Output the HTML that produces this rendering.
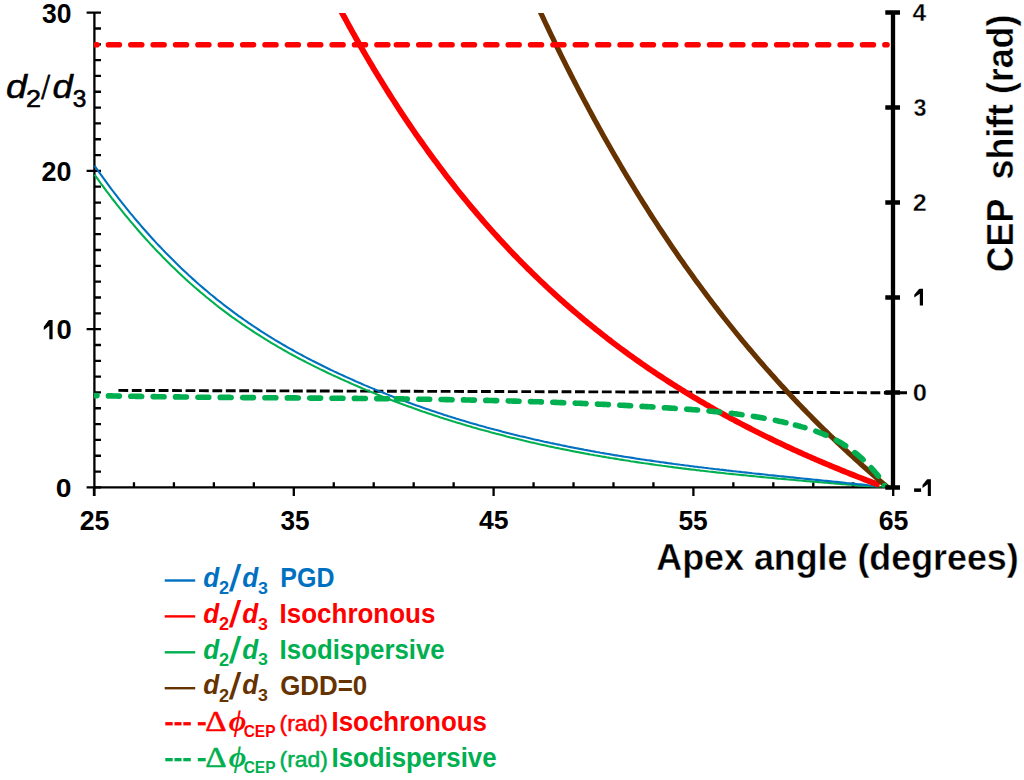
<!DOCTYPE html>
<html><head><meta charset="utf-8"><style>
html,body{margin:0;padding:0;background:#fff;width:1024px;height:780px;overflow:hidden}
svg{display:block}
</style></head><body>
<svg width="1024" height="780" viewBox="0 0 1024 780">
<defs><clipPath id="pc"><rect x="94" y="12.9" width="799" height="474.7"/></clipPath></defs>
<rect width="1024" height="780" fill="#fff"/>
<path d="M94.4,11.5 L94.4,496 M86.6,487.40 L101,487.40 M94.4,471.57 L101,471.57 M94.4,455.75 L101,455.75 M94.4,439.92 L101,439.92 M94.4,424.10 L101,424.10 M94.4,408.27 L101,408.27 M94.4,392.45 L101,392.45 M94.4,376.62 L101,376.62 M94.4,360.80 L101,360.80 M94.4,344.98 L101,344.98 M86.6,329.15 L101,329.15 M94.4,313.32 L101,313.32 M94.4,297.50 L101,297.50 M94.4,281.67 L101,281.67 M94.4,265.85 L101,265.85 M94.4,250.02 L101,250.02 M94.4,234.20 L101,234.20 M94.4,218.38 L101,218.38 M94.4,202.55 L101,202.55 M94.4,186.72 L101,186.72 M86.6,170.90 L101,170.90 M94.4,155.07 L101,155.07 M94.4,139.25 L101,139.25 M94.4,123.43 L101,123.43 M94.4,107.60 L101,107.60 M94.4,91.77 L101,91.77 M94.4,75.95 L101,75.95 M94.4,60.12 L101,60.12 M94.4,44.30 L101,44.30 M94.4,28.48 L101,28.48 M86.6,12.65 L101,12.65" stroke="#000" stroke-width="2.3" fill="none"/>
<path d="M94,487.4 L893,487.4 M94.00,487.4 L94.00,496 M133.96,487.4 L133.96,482.3 M173.92,487.4 L173.92,482.3 M213.88,487.4 L213.88,482.3 M253.84,487.4 L253.84,482.3 M293.80,487.4 L293.80,496 M333.76,487.4 L333.76,482.3 M373.72,487.4 L373.72,482.3 M413.68,487.4 L413.68,482.3 M453.64,487.4 L453.64,482.3 M493.60,487.4 L493.60,496 M533.56,487.4 L533.56,482.3 M573.52,487.4 L573.52,482.3 M613.48,487.4 L613.48,482.3 M653.44,487.4 L653.44,482.3 M693.40,487.4 L693.40,496 M733.36,487.4 L733.36,482.3 M773.32,487.4 L773.32,482.3 M813.28,487.4 L813.28,482.3 M853.24,487.4 L853.24,482.3 M893.20,487.4 L893.20,496" stroke="#000" stroke-width="2.3" fill="none"/>
<g clip-path="url(#pc)" fill="none">
<path d="M118.4,390.4 L907,392.8" stroke="#000" stroke-width="2.9" stroke-dasharray="9.8 3.63"/>
<path d="M94.5,174.6 L96.5,177.4 L98.5,180.2 L100.5,183.0 L102.5,185.7 L104.5,188.4 L106.5,191.1 L108.5,193.7 L110.5,196.3 L112.5,199.0 L114.5,201.5 L116.5,204.1 L118.5,206.6 L120.5,209.1 L122.5,211.6 L124.5,214.1 L126.5,216.5 L128.5,218.9 L130.5,221.3 L132.5,223.7 L134.5,226.0 L136.5,228.4 L138.5,230.7 L140.5,233.0 L142.5,235.2 L144.5,237.5 L146.5,239.7 L148.5,241.9 L150.5,244.1 L152.5,246.2 L154.5,248.4 L156.5,250.5 L158.5,252.6 L160.5,254.6 L162.5,256.7 L164.5,258.7 L166.5,260.7 L168.5,262.7 L170.5,264.7 L172.5,266.7 L174.5,268.6 L176.5,270.5 L178.5,272.4 L180.5,274.3 L182.5,276.2 L184.5,278.0 L186.5,279.9 L188.5,281.7 L190.5,283.5 L192.5,285.2 L194.5,287.0 L196.5,288.7 L198.5,290.4 L200.5,292.2 L202.5,293.8 L204.5,295.5 L206.5,297.2 L208.5,298.8 L210.5,300.4 L212.5,302.0 L214.5,303.6 L216.5,305.2 L218.5,306.8 L220.5,308.3 L222.5,309.8 L224.5,311.3 L226.5,312.8 L228.5,314.3 L230.5,315.8 L232.5,317.3 L234.5,318.7 L236.5,320.1 L238.5,321.5 L240.5,322.9 L242.5,324.3 L244.5,325.7 L246.5,327.0 L248.5,328.4 L250.5,329.7 L252.5,331.0 L254.5,332.3 L256.5,333.6 L258.5,334.9 L260.5,336.2 L262.5,337.4 L264.5,338.7 L266.5,339.9 L268.5,341.1 L270.5,342.4 L272.5,343.6 L274.5,344.7 L276.5,345.9 L278.5,347.1 L280.5,348.2 L282.5,349.4 L284.5,350.5 L286.5,351.6 L288.5,352.8 L290.5,353.9 L292.5,355.0 L294.5,356.0 L296.5,357.1 L298.5,358.2 L300.5,359.2 L302.5,360.3 L304.5,361.3 L306.5,362.4 L308.5,363.4 L310.5,364.4 L312.5,365.4 L314.5,366.4 L316.5,367.4 L318.5,368.4 L320.5,369.4 L322.5,370.3 L324.5,371.3 L326.5,372.2 L328.5,373.2 L330.5,374.1 L332.5,375.1 L334.5,376.0 L336.5,376.9 L338.5,377.8 L340.5,378.7 L342.5,379.6 L344.5,380.5 L346.5,381.4 L348.5,382.3 L350.5,383.2 L352.5,384.1 L354.5,385.0 L356.5,385.8 L358.5,386.7 L360.5,387.5 L362.5,388.4 L364.5,389.2 L366.5,390.1 L368.5,390.9 L370.5,391.7 L372.5,392.5 L374.5,393.4 L376.5,394.2 L378.5,395.0 L380.5,395.8 L382.5,396.6 L384.5,397.3 L386.5,398.1 L388.5,398.9 L390.5,399.7 L392.5,400.5 L394.5,401.2 L396.5,402.0 L398.5,402.7 L400.5,403.5 L402.5,404.2 L404.5,404.9 L406.5,405.7 L408.5,406.4 L410.5,407.1 L412.5,407.8 L414.5,408.6 L416.5,409.3 L418.5,410.0 L420.5,410.7 L422.5,411.4 L424.5,412.0 L426.5,412.7 L428.5,413.4 L430.5,414.1 L432.5,414.7 L434.5,415.4 L436.5,416.1 L438.5,416.7 L440.5,417.4 L442.5,418.0 L444.5,418.7 L446.5,419.3 L448.5,419.9 L450.5,420.6 L452.5,421.2 L454.5,421.8 L456.5,422.4 L458.5,423.0 L460.5,423.6 L462.5,424.2 L464.5,424.8 L466.5,425.4 L468.5,426.0 L470.5,426.6 L472.5,427.2 L474.5,427.7 L476.5,428.3 L478.5,428.9 L480.5,429.4 L482.5,430.0 L484.5,430.5 L486.5,431.1 L488.5,431.6 L490.5,432.2 L492.5,432.7 L494.5,433.2 L496.5,433.8 L498.5,434.3 L500.5,434.8 L502.5,435.3 L504.5,435.8 L506.5,436.4 L508.5,436.9 L510.5,437.4 L512.5,437.9 L514.5,438.3 L516.5,438.8 L518.5,439.3 L520.5,439.8 L522.5,440.3 L524.5,440.8 L526.5,441.2 L528.5,441.7 L530.5,442.2 L532.5,442.6 L534.5,443.1 L536.5,443.5 L538.5,444.0 L540.5,444.4 L542.5,444.9 L544.5,445.3 L546.5,445.7 L548.5,446.2 L550.5,446.6 L552.5,447.0 L554.5,447.4 L556.5,447.9 L558.5,448.3 L560.5,448.7 L562.5,449.1 L564.5,449.5 L566.5,449.9 L568.5,450.3 L570.5,450.7 L572.5,451.1 L574.5,451.5 L576.5,451.9 L578.5,452.2 L580.5,452.6 L582.5,453.0 L584.5,453.4 L586.5,453.7 L588.5,454.1 L590.5,454.5 L592.5,454.8 L594.5,455.2 L596.5,455.5 L598.5,455.9 L600.5,456.2 L602.5,456.6 L604.5,456.9 L606.5,457.3 L608.5,457.6 L610.5,458.0 L612.5,458.3 L614.5,458.6 L616.5,458.9 L618.5,459.3 L620.5,459.6 L622.5,459.9 L624.5,460.2 L626.5,460.5 L628.5,460.8 L630.5,461.2 L632.5,461.5 L634.5,461.8 L636.5,462.1 L638.5,462.4 L640.5,462.7 L642.5,463.0 L644.5,463.3 L646.5,463.5 L648.5,463.8 L650.5,464.1 L652.5,464.4 L654.5,464.7 L656.5,465.0 L658.5,465.2 L660.5,465.5 L662.5,465.8 L664.5,466.0 L666.5,466.3 L668.5,466.6 L670.5,466.8 L672.5,467.1 L674.5,467.4 L676.5,467.6 L678.5,467.9 L680.5,468.1 L682.5,468.4 L684.5,468.6 L686.5,468.9 L688.5,469.1 L690.5,469.4 L692.5,469.6 L694.5,469.8 L696.5,470.1 L698.5,470.3 L700.5,470.6 L702.5,470.8 L704.5,471.0 L706.5,471.2 L708.5,471.5 L710.5,471.7 L712.5,471.9 L714.5,472.1 L716.5,472.4 L718.5,472.6 L720.5,472.8 L722.5,473.0 L724.5,473.2 L726.5,473.5 L728.5,473.7 L730.5,473.9 L732.5,474.1 L734.5,474.3 L736.5,474.5 L738.5,474.7 L740.5,474.9 L742.5,475.1 L744.5,475.3 L746.5,475.5 L748.5,475.7 L750.5,475.9 L752.5,476.1 L754.5,476.3 L756.5,476.5 L758.5,476.7 L760.5,476.9 L762.5,477.1 L764.5,477.3 L766.5,477.5 L768.5,477.6 L770.5,477.8 L772.5,478.0 L774.5,478.2 L776.5,478.4 L778.5,478.6 L780.5,478.7 L782.5,478.9 L784.5,479.1 L786.5,479.3 L788.5,479.5 L790.5,479.6 L792.5,479.8 L794.5,480.0 L796.5,480.2 L798.5,480.4 L800.5,480.5 L802.5,480.7 L804.5,480.9 L806.5,481.1 L808.5,481.2 L810.5,481.4 L812.5,481.6 L814.5,481.7 L816.5,481.9 L818.5,482.1 L820.5,482.3 L822.5,482.4 L824.5,482.6 L826.5,482.8 L828.5,482.9 L830.5,483.1 L832.5,483.3 L834.5,483.4 L836.5,483.6 L838.5,483.8 L840.5,483.9 L842.5,484.1 L844.5,484.3 L846.5,484.4 L848.5,484.6 L850.5,484.8 L852.5,484.9 L854.5,485.1 L856.5,485.3 L858.5,485.4 L860.5,485.6 L862.5,485.8 L864.5,485.9 L866.5,486.1 L868.5,486.3 L870.5,486.4 L872.5,486.6 L874.5,486.8 L876.5,486.9 L878.5,487.1 L880.5,487.3 L882.5,487.4 L884.0,487.6" stroke="#00B050" stroke-width="2.1"/>
<path d="M94.5,165.7 L96.5,168.5 L98.5,171.4 L100.5,174.2 L102.5,176.9 L104.5,179.7 L106.5,182.4 L108.5,185.1 L110.5,187.8 L112.5,190.5 L114.5,193.1 L116.5,195.7 L118.5,198.3 L120.5,200.8 L122.5,203.4 L124.5,205.9 L126.5,208.4 L128.5,210.9 L130.5,213.3 L132.5,215.7 L134.5,218.1 L136.5,220.5 L138.5,222.8 L140.5,225.2 L142.5,227.5 L144.5,229.8 L146.5,232.0 L148.5,234.3 L150.5,236.5 L152.5,238.7 L154.5,240.9 L156.5,243.1 L158.5,245.2 L160.5,247.3 L162.5,249.4 L164.5,251.5 L166.5,253.6 L168.5,255.6 L170.5,257.6 L172.5,259.6 L174.5,261.6 L176.5,263.6 L178.5,265.5 L180.5,267.4 L182.5,269.4 L184.5,271.2 L186.5,273.1 L188.5,275.0 L190.5,276.8 L192.5,278.6 L194.5,280.4 L196.5,282.2 L198.5,284.0 L200.5,285.7 L202.5,287.4 L204.5,289.1 L206.5,290.8 L208.5,292.5 L210.5,294.2 L212.5,295.8 L214.5,297.4 L216.5,299.1 L218.5,300.7 L220.5,302.2 L222.5,303.8 L224.5,305.4 L226.5,306.9 L228.5,308.4 L230.5,309.9 L232.5,311.4 L234.5,312.9 L236.5,314.3 L238.5,315.8 L240.5,317.2 L242.5,318.6 L244.5,320.0 L246.5,321.4 L248.5,322.8 L250.5,324.2 L252.5,325.5 L254.5,326.9 L256.5,328.2 L258.5,329.5 L260.5,330.8 L262.5,332.1 L264.5,333.4 L266.5,334.6 L268.5,335.9 L270.5,337.1 L272.5,338.4 L274.5,339.6 L276.5,340.8 L278.5,342.0 L280.5,343.2 L282.5,344.3 L284.5,345.5 L286.5,346.7 L288.5,347.8 L290.5,348.9 L292.5,350.0 L294.5,351.2 L296.5,352.3 L298.5,353.4 L300.5,354.4 L302.5,355.5 L304.5,356.6 L306.5,357.6 L308.5,358.7 L310.5,359.7 L312.5,360.8 L314.5,361.8 L316.5,362.8 L318.5,363.8 L320.5,364.8 L322.5,365.8 L324.5,366.8 L326.5,367.7 L328.5,368.7 L330.5,369.7 L332.5,370.6 L334.5,371.6 L336.5,372.5 L338.5,373.5 L340.5,374.4 L342.5,375.3 L344.5,376.2 L346.5,377.1 L348.5,378.0 L350.5,378.9 L352.5,379.8 L354.5,380.7 L356.5,381.6 L358.5,382.5 L360.5,383.3 L362.5,384.2 L364.5,385.1 L366.5,385.9 L368.5,386.8 L370.5,387.6 L372.5,388.4 L374.5,389.3 L376.5,390.1 L378.5,390.9 L380.5,391.7 L382.5,392.5 L384.5,393.3 L386.5,394.1 L388.5,394.9 L390.5,395.7 L392.5,396.5 L394.5,397.2 L396.5,398.0 L398.5,398.8 L400.5,399.5 L402.5,400.3 L404.5,401.0 L406.5,401.8 L408.5,402.5 L410.5,403.2 L412.5,404.0 L414.5,404.7 L416.5,405.4 L418.5,406.1 L420.5,406.8 L422.5,407.5 L424.5,408.2 L426.5,408.9 L428.5,409.6 L430.5,410.3 L432.5,410.9 L434.5,411.6 L436.5,412.3 L438.5,412.9 L440.5,413.6 L442.5,414.2 L444.5,414.9 L446.5,415.5 L448.5,416.2 L450.5,416.8 L452.5,417.4 L454.5,418.0 L456.5,418.7 L458.5,419.3 L460.5,419.9 L462.5,420.5 L464.5,421.1 L466.5,421.7 L468.5,422.3 L470.5,422.9 L472.5,423.4 L474.5,424.0 L476.5,424.6 L478.5,425.2 L480.5,425.7 L482.5,426.3 L484.5,426.8 L486.5,427.4 L488.5,427.9 L490.5,428.5 L492.5,429.0 L494.5,429.6 L496.5,430.1 L498.5,430.6 L500.5,431.1 L502.5,431.7 L504.5,432.2 L506.5,432.7 L508.5,433.2 L510.5,433.7 L512.5,434.2 L514.5,434.7 L516.5,435.2 L518.5,435.7 L520.5,436.2 L522.5,436.6 L524.5,437.1 L526.5,437.6 L528.5,438.0 L530.5,438.5 L532.5,439.0 L534.5,439.4 L536.5,439.9 L538.5,440.3 L540.5,440.8 L542.5,441.2 L544.5,441.7 L546.5,442.1 L548.5,442.5 L550.5,443.0 L552.5,443.4 L554.5,443.8 L556.5,444.2 L558.5,444.6 L560.5,445.1 L562.5,445.5 L564.5,445.9 L566.5,446.3 L568.5,446.7 L570.5,447.1 L572.5,447.5 L574.5,447.9 L576.5,448.2 L578.5,448.6 L580.5,449.0 L582.5,449.4 L584.5,449.8 L586.5,450.1 L588.5,450.5 L590.5,450.9 L592.5,451.2 L594.5,451.6 L596.5,452.0 L598.5,452.3 L600.5,452.7 L602.5,453.0 L604.5,453.4 L606.5,453.7 L608.5,454.0 L610.5,454.4 L612.5,454.7 L614.5,455.1 L616.5,455.4 L618.5,455.7 L620.5,456.0 L622.5,456.4 L624.5,456.7 L626.5,457.0 L628.5,457.3 L630.5,457.6 L632.5,457.9 L634.5,458.2 L636.5,458.6 L638.5,458.9 L640.5,459.2 L642.5,459.5 L644.5,459.8 L646.5,460.1 L648.5,460.3 L650.5,460.6 L652.5,460.9 L654.5,461.2 L656.5,461.5 L658.5,461.8 L660.5,462.1 L662.5,462.3 L664.5,462.6 L666.5,462.9 L668.5,463.2 L670.5,463.4 L672.5,463.7 L674.5,464.0 L676.5,464.2 L678.5,464.5 L680.5,464.8 L682.5,465.0 L684.5,465.3 L686.5,465.5 L688.5,465.8 L690.5,466.1 L692.5,466.3 L694.5,466.6 L696.5,466.8 L698.5,467.1 L700.5,467.3 L702.5,467.5 L704.5,467.8 L706.5,468.0 L708.5,468.3 L710.5,468.5 L712.5,468.7 L714.5,469.0 L716.5,469.2 L718.5,469.4 L720.5,469.7 L722.5,469.9 L724.5,470.1 L726.5,470.4 L728.5,470.6 L730.5,470.8 L732.5,471.1 L734.5,471.3 L736.5,471.5 L738.5,471.7 L740.5,471.9 L742.5,472.2 L744.5,472.4 L746.5,472.6 L748.5,472.8 L750.5,473.0 L752.5,473.3 L754.5,473.5 L756.5,473.7 L758.5,473.9 L760.5,474.1 L762.5,474.3 L764.5,474.5 L766.5,474.7 L768.5,475.0 L770.5,475.2 L772.5,475.4 L774.5,475.6 L776.5,475.8 L778.5,476.0 L780.5,476.2 L782.5,476.4 L784.5,476.6 L786.5,476.8 L788.5,477.0 L790.5,477.2 L792.5,477.4 L794.5,477.6 L796.5,477.9 L798.5,478.1 L800.5,478.3 L802.5,478.5 L804.5,478.7 L806.5,478.9 L808.5,479.1 L810.5,479.3 L812.5,479.5 L814.5,479.7 L816.5,479.9 L818.5,480.1 L820.5,480.3 L822.5,480.5 L824.5,480.7 L826.5,480.9 L828.5,481.1 L830.5,481.3 L832.5,481.5 L834.5,481.7 L836.5,481.9 L838.5,482.1 L840.5,482.3 L842.5,482.5 L844.5,482.7 L846.5,483.0 L848.5,483.2 L850.5,483.4 L852.5,483.6 L854.5,483.8 L856.5,484.0 L858.5,484.2 L860.5,484.4 L862.5,484.6 L864.5,484.8 L866.5,485.0 L868.5,485.3 L870.5,485.5 L872.5,485.7 L874.5,485.9 L876.5,486.1 L877.6,486.2" stroke="#0070C0" stroke-width="2.1"/>
<path d="M336.0,1.5 L338.0,5.3 L340.0,9.0 L342.0,12.8 L344.0,16.5 L346.0,20.2 L348.0,23.8 L350.0,27.5 L352.0,31.1 L354.0,34.7 L356.0,38.2 L358.0,41.7 L360.0,45.3 L362.0,48.7 L364.0,52.2 L366.0,55.6 L368.0,59.1 L370.0,62.4 L372.0,65.8 L374.0,69.2 L376.0,72.5 L378.0,75.8 L380.0,79.0 L382.0,82.3 L384.0,85.5 L386.0,88.7 L388.0,91.9 L390.0,95.1 L392.0,98.2 L394.0,101.3 L396.0,104.4 L398.0,107.5 L400.0,110.6 L402.0,113.6 L404.0,116.6 L406.0,119.6 L408.0,122.6 L410.0,125.5 L412.0,128.5 L414.0,131.4 L416.0,134.3 L418.0,137.1 L420.0,140.0 L422.0,142.8 L424.0,145.6 L426.0,148.4 L428.0,151.2 L430.0,154.0 L432.0,156.7 L434.0,159.4 L436.0,162.1 L438.0,164.8 L440.0,167.5 L442.0,170.1 L444.0,172.8 L446.0,175.4 L448.0,178.0 L450.0,180.5 L452.0,183.1 L454.0,185.6 L456.0,188.2 L458.0,190.7 L460.0,193.2 L462.0,195.6 L464.0,198.1 L466.0,200.5 L468.0,203.0 L470.0,205.4 L472.0,207.8 L474.0,210.2 L476.0,212.5 L478.0,214.9 L480.0,217.2 L482.0,219.5 L484.0,221.8 L486.0,224.1 L488.0,226.4 L490.0,228.6 L492.0,230.9 L494.0,233.1 L496.0,235.3 L498.0,237.5 L500.0,239.7 L502.0,241.8 L504.0,244.0 L506.0,246.1 L508.0,248.3 L510.0,250.4 L512.0,252.5 L514.0,254.6 L516.0,256.6 L518.0,258.7 L520.0,260.7 L522.0,262.8 L524.0,264.8 L526.0,266.8 L528.0,268.8 L530.0,270.7 L532.0,272.7 L534.0,274.7 L536.0,276.6 L538.0,278.5 L540.0,280.5 L542.0,282.4 L544.0,284.2 L546.0,286.1 L548.0,288.0 L550.0,289.9 L552.0,291.7 L554.0,293.5 L556.0,295.3 L558.0,297.2 L560.0,299.0 L562.0,300.7 L564.0,302.5 L566.0,304.3 L568.0,306.0 L570.0,307.8 L572.0,309.5 L574.0,311.2 L576.0,312.9 L578.0,314.6 L580.0,316.3 L582.0,318.0 L584.0,319.7 L586.0,321.3 L588.0,323.0 L590.0,324.6 L592.0,326.2 L594.0,327.8 L596.0,329.5 L598.0,331.0 L600.0,332.6 L602.0,334.2 L604.0,335.8 L606.0,337.3 L608.0,338.9 L610.0,340.4 L612.0,342.0 L614.0,343.5 L616.0,345.0 L618.0,346.5 L620.0,348.0 L622.0,349.5 L624.0,350.9 L626.0,352.4 L628.0,353.9 L630.0,355.3 L632.0,356.7 L634.0,358.2 L636.0,359.6 L638.0,361.0 L640.0,362.4 L642.0,363.8 L644.0,365.2 L646.0,366.6 L648.0,368.0 L650.0,369.3 L652.0,370.7 L654.0,372.0 L656.0,373.4 L658.0,374.7 L660.0,376.0 L662.0,377.3 L664.0,378.6 L666.0,379.9 L668.0,381.2 L670.0,382.5 L672.0,383.8 L674.0,385.1 L676.0,386.3 L678.0,387.6 L680.0,388.8 L682.0,390.1 L684.0,391.3 L686.0,392.6 L688.0,393.8 L690.0,395.0 L692.0,396.2 L694.0,397.4 L696.0,398.6 L698.0,399.8 L700.0,401.0 L702.0,402.1 L704.0,403.3 L706.0,404.5 L708.0,405.6 L710.0,406.8 L712.0,407.9 L714.0,409.0 L716.0,410.2 L718.0,411.3 L720.0,412.4 L722.0,413.5 L724.0,414.6 L726.0,415.7 L728.0,416.8 L730.0,417.9 L732.0,419.0 L734.0,420.0 L736.0,421.1 L738.0,422.2 L740.0,423.2 L742.0,424.3 L744.0,425.3 L746.0,426.4 L748.0,427.4 L750.0,428.4 L752.0,429.5 L754.0,430.5 L756.0,431.5 L758.0,432.5 L760.0,433.5 L762.0,434.5 L764.0,435.5 L766.0,436.5 L768.0,437.5 L770.0,438.4 L772.0,439.4 L774.0,440.4 L776.0,441.3 L778.0,442.3 L780.0,443.2 L782.0,444.2 L784.0,445.1 L786.0,446.1 L788.0,447.0 L790.0,447.9 L792.0,448.8 L794.0,449.8 L796.0,450.7 L798.0,451.6 L800.0,452.5 L802.0,453.4 L804.0,454.3 L806.0,455.2 L808.0,456.1 L810.0,456.9 L812.0,457.8 L814.0,458.7 L816.0,459.6 L818.0,460.4 L820.0,461.3 L822.0,462.1 L824.0,463.0 L826.0,463.8 L828.0,464.7 L830.0,465.5 L832.0,466.3 L834.0,467.2 L836.0,468.0 L838.0,468.8 L840.0,469.6 L842.0,470.5 L844.0,471.3 L846.0,472.1 L848.0,472.9 L850.0,473.7 L852.0,474.5 L854.0,475.3 L856.0,476.1 L858.0,476.9 L860.0,477.6 L862.0,478.4 L864.0,479.2 L866.0,480.0 L868.0,480.7 L870.0,481.5 L872.0,482.3 L874.0,483.0 L876.0,483.8 L878.0,484.5 L879.6,485.1" stroke="#FF0000" stroke-width="5.8"/>
<path d="M535.0,0.4 L537.0,4.8 L539.0,9.1 L541.0,13.4 L543.0,17.7 L545.0,22.0 L547.0,26.2 L549.0,30.4 L551.0,34.6 L553.0,38.7 L555.0,42.8 L557.0,46.9 L559.0,51.0 L561.0,55.1 L563.0,59.1 L565.0,63.1 L567.0,67.1 L569.0,71.0 L571.0,75.0 L573.0,78.9 L575.0,82.8 L577.0,86.6 L579.0,90.5 L581.0,94.3 L583.0,98.1 L585.0,101.9 L587.0,105.6 L589.0,109.4 L591.0,113.1 L593.0,116.8 L595.0,120.4 L597.0,124.1 L599.0,127.7 L601.0,131.3 L603.0,134.9 L605.0,138.5 L607.0,142.0 L609.0,145.5 L611.0,149.0 L613.0,152.5 L615.0,156.0 L617.0,159.4 L619.0,162.8 L621.0,166.2 L623.0,169.6 L625.0,173.0 L627.0,176.3 L629.0,179.6 L631.0,182.9 L633.0,186.2 L635.0,189.5 L637.0,192.7 L639.0,196.0 L641.0,199.2 L643.0,202.4 L645.0,205.5 L647.0,208.7 L649.0,211.8 L651.0,215.0 L653.0,218.1 L655.0,221.1 L657.0,224.2 L659.0,227.3 L661.0,230.3 L663.0,233.3 L665.0,236.3 L667.0,239.3 L669.0,242.3 L671.0,245.2 L673.0,248.2 L675.0,251.1 L677.0,254.0 L679.0,256.9 L681.0,259.7 L683.0,262.6 L685.0,265.4 L687.0,268.2 L689.0,271.0 L691.0,273.8 L693.0,276.6 L695.0,279.4 L697.0,282.1 L699.0,284.8 L701.0,287.6 L703.0,290.3 L705.0,292.9 L707.0,295.6 L709.0,298.3 L711.0,300.9 L713.0,303.5 L715.0,306.1 L717.0,308.7 L719.0,311.3 L721.0,313.9 L723.0,316.5 L725.0,319.0 L727.0,321.5 L729.0,324.0 L731.0,326.5 L733.0,329.0 L735.0,331.5 L737.0,334.0 L739.0,336.4 L741.0,338.9 L743.0,341.3 L745.0,343.7 L747.0,346.1 L749.0,348.5 L751.0,350.8 L753.0,353.2 L755.0,355.5 L757.0,357.9 L759.0,360.2 L761.0,362.5 L763.0,364.8 L765.0,367.1 L767.0,369.4 L769.0,371.6 L771.0,373.9 L773.0,376.1 L775.0,378.3 L777.0,380.6 L779.0,382.8 L781.0,385.0 L783.0,387.1 L785.0,389.3 L787.0,391.5 L789.0,393.6 L791.0,395.8 L793.0,397.9 L795.0,400.0 L797.0,402.1 L799.0,404.2 L801.0,406.3 L803.0,408.4 L805.0,410.4 L807.0,412.5 L809.0,414.5 L811.0,416.5 L813.0,418.6 L815.0,420.6 L817.0,422.6 L819.0,424.6 L821.0,426.5 L823.0,428.5 L825.0,430.5 L827.0,432.4 L829.0,434.4 L831.0,436.3 L833.0,438.2 L835.0,440.1 L837.0,442.0 L839.0,443.9 L841.0,445.8 L843.0,447.7 L845.0,449.6 L847.0,451.4 L849.0,453.3 L851.0,455.1 L853.0,456.9 L855.0,458.8 L857.0,460.6 L859.0,462.4 L861.0,464.2 L863.0,466.0 L865.0,467.7 L867.0,469.5 L869.0,471.3 L871.0,473.0 L873.0,474.8 L875.0,476.5 L877.0,478.2 L879.0,480.0 L881.0,481.7 L883.0,483.4 L885.0,485.1 L887.0,486.8 L888.0,487.6" stroke="#663300" stroke-width="5.2"/>
<path d="M86.1,44.7 L396.4,44.7" stroke="#FF0000" stroke-width="5.6" stroke-linecap="round" stroke-dasharray="10.9 11.47" fill="none"/>
<path d="M396.4,44.7 L795.4,44.7" stroke="#FF0000" stroke-width="5.6" stroke-linecap="round" stroke-dasharray="10.9 11.47" fill="none"/>
<path d="M795.4,44.7 L887.0,44.7" stroke="#FF0000" stroke-width="5.6" stroke-linecap="round" stroke-dasharray="10.9 11.47" fill="none"/>
<path d="M86.1,395.7 L94.0,395.6 L95.0,395.6 L96.0,395.6 L97.0,395.6 L98.0,395.7 L99.0,395.7 L100.0,395.7 L101.0,395.7 L102.0,395.8 L103.0,395.8 L104.0,395.8 L105.0,395.8 L106.0,395.8 L107.0,395.9 L108.0,395.9 L109.0,395.9 L110.0,395.9 L111.0,395.9 L112.0,395.9 L113.0,396.0 L114.0,396.0 L115.0,396.0 L116.0,396.0 L117.0,396.0 L118.0,396.1 L119.0,396.1 L120.0,396.1 L121.0,396.1 L122.0,396.1 L123.0,396.1 L124.0,396.2 L125.0,396.2 L126.0,396.2 L127.0,396.2 L128.0,396.2 L129.0,396.2 L130.0,396.3 L131.0,396.3 L132.0,396.3 L133.0,396.3 L134.0,396.3 L135.0,396.3 L136.0,396.4 L137.0,396.4 L138.0,396.4 L139.0,396.4 L140.0,396.4 L141.0,396.4 L142.0,396.5 L143.0,396.5 L144.0,396.5 L145.0,396.5 L146.0,396.5 L147.0,396.5 L148.0,396.5 L149.0,396.6 L150.0,396.6 L151.0,396.6 L152.0,396.6 L153.0,396.6 L154.0,396.6 L155.0,396.6 L156.0,396.7 L157.0,396.7 L158.0,396.7 L159.0,396.7 L160.0,396.7 L161.0,396.7 L162.0,396.7 L163.0,396.8 L164.0,396.8 L165.0,396.8 L166.0,396.8 L167.0,396.8 L168.0,396.8 L169.0,396.8 L170.0,396.8 L171.0,396.9 L172.0,396.9 L173.0,396.9 L174.0,396.9 L175.0,396.9 L176.0,396.9 L177.0,396.9 L178.0,396.9 L179.0,396.9 L180.0,397.0 L181.0,397.0 L182.0,397.0 L183.0,397.0 L184.0,397.0 L185.0,397.0 L186.0,397.0 L187.0,397.0 L188.0,397.0 L189.0,397.1 L190.0,397.1 L191.0,397.1 L192.0,397.1 L193.0,397.1 L194.0,397.1 L195.0,397.1 L196.0,397.1 L197.0,397.1 L198.0,397.2 L199.0,397.2 L200.0,397.2 L201.0,397.2 L202.0,397.2 L203.0,397.2 L204.0,397.2 L205.0,397.2 L206.0,397.2 L207.0,397.2 L208.0,397.3 L209.0,397.3 L210.0,397.3 L211.0,397.3 L212.0,397.3 L213.0,397.3 L214.0,397.3 L215.0,397.3 L216.0,397.3 L217.0,397.3 L218.0,397.3 L219.0,397.4 L220.0,397.4 L221.0,397.4 L222.0,397.4 L223.0,397.4 L224.0,397.4 L225.0,397.4 L226.0,397.4 L227.0,397.4 L228.0,397.4 L229.0,397.4 L230.0,397.4 L231.0,397.5 L232.0,397.5 L233.0,397.5 L234.0,397.5 L235.0,397.5 L236.0,397.5 L237.0,397.5 L238.0,397.5 L239.0,397.5 L240.0,397.5 L241.0,397.5 L242.0,397.5 L243.0,397.6 L244.0,397.6 L245.0,397.6 L246.0,397.6 L247.0,397.6 L248.0,397.6 L249.0,397.6 L250.0,397.6 L251.0,397.6 L252.0,397.6 L253.0,397.6 L254.0,397.6 L255.0,397.6 L256.0,397.7 L257.0,397.7 L258.0,397.7 L259.0,397.7 L260.0,397.7 L261.0,397.7 L262.0,397.7 L263.0,397.7 L264.0,397.7 L265.0,397.7 L266.0,397.7 L267.0,397.7 L268.0,397.7 L269.0,397.8 L270.0,397.8 L271.0,397.8 L272.0,397.8 L273.0,397.8 L274.0,397.8 L275.0,397.8 L276.0,397.8 L277.0,397.8 L278.0,397.8 L279.0,397.8 L280.0,397.8 L281.0,397.8 L282.0,397.8 L283.0,397.9 L284.0,397.9 L285.0,397.9 L286.0,397.9 L287.0,397.9 L288.0,397.9 L289.0,397.9 L290.0,397.9 L291.0,397.9 L292.0,397.9 L293.0,397.9 L294.0,397.9 L295.0,397.9 L296.0,397.9 L297.0,398.0 L298.0,398.0 L299.0,398.0 L300.0,398.0 L301.0,398.0 L302.0,398.0 L303.0,398.0 L304.0,398.0 L305.0,398.0 L306.0,398.0 L307.0,398.0 L308.0,398.0 L309.0,398.0 L310.0,398.1 L311.0,398.1 L312.0,398.1 L313.0,398.1 L314.0,398.1 L315.0,398.1 L316.0,398.1 L317.0,398.1 L318.0,398.1 L319.0,398.1 L320.0,398.1 L321.0,398.1 L322.0,398.1 L323.0,398.2 L324.0,398.2 L325.0,398.2 L326.0,398.2 L327.0,398.2 L328.0,398.2 L329.0,398.2 L330.0,398.2 L331.0,398.2 L332.0,398.2 L333.0,398.2 L334.0,398.2 L335.0,398.2 L336.0,398.3 L337.0,398.3 L338.0,398.3 L339.0,398.3 L340.0,398.3 L341.0,398.3 L342.0,398.3 L343.0,398.3 L344.0,398.3 L345.0,398.3 L346.0,398.3 L347.0,398.4 L348.0,398.4 L349.0,398.4 L350.0,398.4 L351.0,398.4 L352.0,398.4 L353.0,398.4 L354.0,398.4 L355.0,398.4 L356.0,398.4 L357.0,398.4 L358.0,398.5 L359.0,398.5 L360.0,398.5 L361.0,398.5 L362.0,398.5 L363.0,398.5 L364.0,398.5 L365.0,398.5 L366.0,398.5 L367.0,398.5 L368.0,398.5 L369.0,398.6 L370.0,398.6 L371.0,398.6 L372.0,398.6 L373.0,398.6 L374.0,398.6 L375.0,398.6 L376.0,398.6 L377.0,398.6 L378.0,398.6 L379.0,398.7 L380.0,398.7 L381.0,398.7 L382.0,398.7 L383.0,398.7 L384.0,398.7 L385.0,398.7 L386.0,398.7 L387.0,398.7 L388.0,398.8 L389.0,398.8 L390.0,398.8 L391.0,398.8 L392.0,398.8 L393.0,398.8 L394.0,398.8 L395.0,398.8 L396.0,398.9 L396.4,398.9" stroke="#00B050" stroke-width="5.6" stroke-linecap="round" stroke-dasharray="10.9 11.47" fill="none"/>
<path d="M396.4,398.9 L397.0,398.9 L398.0,398.9 L399.0,398.9 L400.0,398.9 L401.0,398.9 L402.0,398.9 L403.0,398.9 L404.0,399.0 L405.0,399.0 L406.0,399.0 L407.0,399.0 L408.0,399.0 L409.0,399.0 L410.0,399.0 L411.0,399.0 L412.0,399.1 L413.0,399.1 L414.0,399.1 L415.0,399.1 L416.0,399.1 L417.0,399.1 L418.0,399.1 L419.0,399.2 L420.0,399.2 L421.0,399.2 L422.0,399.2 L423.0,399.2 L424.0,399.2 L425.0,399.2 L426.0,399.3 L427.0,399.3 L428.0,399.3 L429.0,399.3 L430.0,399.3 L431.0,399.3 L432.0,399.4 L433.0,399.4 L434.0,399.4 L435.0,399.4 L436.0,399.4 L437.0,399.4 L438.0,399.4 L439.0,399.5 L440.0,399.5 L441.0,399.5 L442.0,399.5 L443.0,399.5 L444.0,399.5 L445.0,399.6 L446.0,399.6 L447.0,399.6 L448.0,399.6 L449.0,399.6 L450.0,399.7 L451.0,399.7 L452.0,399.7 L453.0,399.7 L454.0,399.7 L455.0,399.7 L456.0,399.8 L457.0,399.8 L458.0,399.8 L459.0,399.8 L460.0,399.8 L461.0,399.9 L462.0,399.9 L463.0,399.9 L464.0,399.9 L465.0,399.9 L466.0,400.0 L467.0,400.0 L468.0,400.0 L469.0,400.0 L470.0,400.0 L471.0,400.1 L472.0,400.1 L473.0,400.1 L474.0,400.1 L475.0,400.1 L476.0,400.2 L477.0,400.2 L478.0,400.2 L479.0,400.2 L480.0,400.2 L481.0,400.3 L482.0,400.3 L483.0,400.3 L484.0,400.3 L485.0,400.4 L486.0,400.4 L487.0,400.4 L488.0,400.4 L489.0,400.5 L490.0,400.5 L491.0,400.5 L492.0,400.5 L493.0,400.5 L494.0,400.6 L495.0,400.6 L496.0,400.6 L497.0,400.6 L498.0,400.7 L499.0,400.7 L500.0,400.7 L501.0,400.7 L502.0,400.8 L503.0,400.8 L504.0,400.8 L505.0,400.8 L506.0,400.9 L507.0,400.9 L508.0,400.9 L509.0,401.0 L510.0,401.0 L511.0,401.0 L512.0,401.0 L513.0,401.1 L514.0,401.1 L515.0,401.1 L516.0,401.1 L517.0,401.2 L518.0,401.2 L519.0,401.2 L520.0,401.3 L521.0,401.3 L522.0,401.3 L523.0,401.3 L524.0,401.4 L525.0,401.4 L526.0,401.4 L527.0,401.5 L528.0,401.5 L529.0,401.5 L530.0,401.6 L531.0,401.6 L532.0,401.6 L533.0,401.7 L534.0,401.7 L535.0,401.7 L536.0,401.7 L537.0,401.8 L538.0,401.8 L539.0,401.8 L540.0,401.9 L541.0,401.9 L542.0,401.9 L543.0,402.0 L544.0,402.0 L545.0,402.0 L546.0,402.1 L547.0,402.1 L548.0,402.1 L549.0,402.2 L550.0,402.2 L551.0,402.2 L552.0,402.3 L553.0,402.3 L554.0,402.3 L555.0,402.4 L556.0,402.4 L557.0,402.5 L558.0,402.5 L559.0,402.5 L560.0,402.6 L561.0,402.6 L562.0,402.6 L563.0,402.7 L564.0,402.7 L565.0,402.8 L566.0,402.8 L567.0,402.8 L568.0,402.9 L569.0,402.9 L570.0,402.9 L571.0,403.0 L572.0,403.0 L573.0,403.1 L574.0,403.1 L575.0,403.1 L576.0,403.2 L577.0,403.2 L578.0,403.3 L579.0,403.3 L580.0,403.3 L581.0,403.4 L582.0,403.4 L583.0,403.5 L584.0,403.5 L585.0,403.6 L586.0,403.6 L587.0,403.6 L588.0,403.7 L589.0,403.7 L590.0,403.8 L591.0,403.8 L592.0,403.9 L593.0,403.9 L594.0,403.9 L595.0,404.0 L596.0,404.0 L597.0,404.1 L598.0,404.1 L599.0,404.2 L600.0,404.2 L601.0,404.3 L602.0,404.3 L603.0,404.4 L604.0,404.4 L605.0,404.4 L606.0,404.5 L607.0,404.5 L608.0,404.6 L609.0,404.6 L610.0,404.7 L611.0,404.7 L612.0,404.8 L613.0,404.8 L614.0,404.9 L615.0,404.9 L616.0,405.0 L617.0,405.0 L618.0,405.1 L619.0,405.1 L620.0,405.2 L621.0,405.2 L622.0,405.3 L623.0,405.3 L624.0,405.4 L625.0,405.4 L626.0,405.5 L627.0,405.5 L628.0,405.6 L629.0,405.6 L630.0,405.7 L631.0,405.8 L632.0,405.8 L633.0,405.9 L634.0,405.9 L635.0,406.0 L636.0,406.0 L637.0,406.1 L638.0,406.1 L639.0,406.2 L640.0,406.2 L641.0,406.3 L642.0,406.4 L643.0,406.4 L644.0,406.5 L645.0,406.5 L646.0,406.6 L647.0,406.6 L648.0,406.7 L649.0,406.8 L650.0,406.8 L651.0,406.9 L652.0,406.9 L653.0,407.0 L654.0,407.1 L655.0,407.1 L656.0,407.2 L657.0,407.2 L658.0,407.3 L659.0,407.4 L660.0,407.4 L661.0,407.5 L662.0,407.6 L663.0,407.6 L664.0,407.7 L665.0,407.7 L666.0,407.8 L667.0,407.9 L668.0,407.9 L669.0,408.0 L670.0,408.1 L671.0,408.1 L672.0,408.2 L673.0,408.3 L674.0,408.3 L675.0,408.4 L676.0,408.5 L677.0,408.5 L678.0,408.6 L679.0,408.7 L680.0,408.7 L681.0,408.8 L682.0,408.9 L683.0,408.9 L684.0,409.0 L685.0,409.1 L686.0,409.1 L687.0,409.2 L688.0,409.3 L689.0,409.4 L690.0,409.4 L691.0,409.5 L692.0,409.6 L693.0,409.7 L694.0,409.7 L695.0,409.8 L696.0,409.9 L697.0,410.0 L698.0,410.1 L699.0,410.1 L700.0,410.2 L701.0,410.3 L702.0,410.4 L703.0,410.5 L704.0,410.6 L705.0,410.6 L706.0,410.7 L707.0,410.8 L708.0,410.9 L709.0,411.0 L710.0,411.1 L711.0,411.2 L712.0,411.3 L713.0,411.4 L714.0,411.5 L715.0,411.6 L716.0,411.7 L717.0,411.8 L718.0,411.9 L719.0,412.0 L720.0,412.1 L721.0,412.2 L722.0,412.3 L723.0,412.4 L724.0,412.5 L725.0,412.6 L726.0,412.7 L727.0,412.8 L728.0,412.9 L729.0,413.1 L730.0,413.2 L731.0,413.3 L732.0,413.4 L733.0,413.5 L734.0,413.7 L735.0,413.8 L736.0,413.9 L737.0,414.0 L738.0,414.2 L739.0,414.3 L740.0,414.4 L741.0,414.6 L742.0,414.7 L743.0,414.8 L744.0,415.0 L745.0,415.1 L746.0,415.3 L747.0,415.4 L748.0,415.6 L749.0,415.7 L750.0,415.9 L751.0,416.0 L752.0,416.2 L753.0,416.3 L754.0,416.5 L755.0,416.6 L756.0,416.8 L757.0,417.0 L758.0,417.1 L759.0,417.3 L760.0,417.5 L761.0,417.6 L762.0,417.8 L763.0,418.0 L764.0,418.2 L765.0,418.4 L766.0,418.5 L767.0,418.7 L768.0,418.9 L769.0,419.1 L770.0,419.3 L771.0,419.5 L772.0,419.7 L773.0,419.9 L774.0,420.1 L775.0,420.3 L776.0,420.5 L777.0,420.7 L778.0,420.9 L779.0,421.2 L780.0,421.4 L781.0,421.6 L782.0,421.8 L783.0,422.0 L784.0,422.3 L785.0,422.5 L786.0,422.7 L787.0,423.0 L788.0,423.2 L789.0,423.5 L790.0,423.7 L791.0,423.9 L792.0,424.2 L793.0,424.4 L794.0,424.7 L795.0,425.0 L795.4,425.1" stroke="#00B050" stroke-width="5.6" stroke-linecap="round" stroke-dasharray="10.9 11.47" fill="none"/>
<path d="M795.4,425.1 L796.0,425.2 L797.0,425.5 L798.0,425.8 L799.0,426.0 L800.0,426.3 L801.0,426.6 L802.0,426.9 L803.0,427.1 L804.0,427.4 L805.0,427.7 L806.0,428.0 L807.0,428.3 L808.0,428.6 L809.0,428.9 L810.0,429.2 L811.0,429.6 L812.0,429.9 L813.0,430.2 L814.0,430.6 L815.0,430.9 L816.0,431.3 L817.0,431.6 L818.0,432.0 L819.0,432.4 L820.0,432.8 L821.0,433.1 L822.0,433.5 L823.0,433.9 L824.0,434.4 L825.0,434.8 L826.0,435.2 L827.0,435.7 L828.0,436.1 L829.0,436.6 L830.0,437.0 L831.0,437.5 L832.0,438.0 L833.0,438.5 L834.0,439.0 L835.0,439.5 L836.0,440.1 L837.0,440.6 L838.0,441.2 L839.0,441.8 L840.0,442.3 L841.0,442.9 L842.0,443.5 L843.0,444.1 L844.0,444.8 L845.0,445.4 L846.0,446.1 L847.0,446.8 L848.0,447.4 L849.0,448.1 L850.0,448.9 L851.0,449.6 L852.0,450.3 L853.0,451.1 L854.0,451.9 L855.0,452.7 L856.0,453.5 L857.0,454.3 L858.0,455.1 L859.0,456.0 L860.0,456.8 L861.0,457.7 L862.0,458.6 L863.0,459.6 L864.0,460.5 L865.0,461.4 L866.0,462.4 L867.0,463.4 L868.0,464.4 L869.0,465.5 L870.0,466.5 L871.0,467.6 L872.0,468.7 L873.0,469.8 L874.0,470.9 L875.0,472.0 L876.0,473.2 L877.0,474.4 L878.0,475.6 L879.0,476.8 L880.0,478.1 L881.0,479.3 L882.0,480.6 L883.0,482.0 L884.0,483.3 L884.0,483.3 L885.2,487.6" stroke="#00B050" stroke-width="5.6" stroke-linecap="round" stroke-dasharray="10.9 11.47" fill="none" stroke-dashoffset="1.00"/>
</g>
<path d="M884,392.75 L907,392.8" stroke="#000" stroke-width="2.9" stroke-dasharray="9.8 3.63"/>
<path d="M893,10.2 L893,489.7 M885.3,487.50 L900,487.50 M885.3,392.50 L900,392.50 M885.3,297.50 L900,297.50 M885.3,202.50 L900,202.50 M885.3,107.50 L900,107.50 M885.3,12.50 L900,12.50" stroke="#000" stroke-width="4.3" fill="none"/>
<path d="M49.34,320.00 L52.60,320.00 L52.60,339.30 L49.34,339.30 L49.34,325.79 L43.80,330.04 L43.80,326.75 L48.38,320.39 Z" fill="#000"/>
<path d="M919.78,288.80 L923.00,288.80 L923.00,305.60 L919.78,305.60 L919.78,293.84 L914.30,297.54 L914.30,294.68 L918.82,289.14 Z" fill="#000"/>
<path d="M927.79,479.20 L930.90,479.20 L930.90,496.00 L927.79,496.00 L927.79,484.24 L922.50,487.94 L922.50,485.08 L926.87,479.54 Z" fill="#000"/>
<rect x="914.1" y="488.4" width="7" height="3.5" fill="#000"/>
<rect x="164.7" y="579.30" width="30.5" height="2.4" fill="#0070C0"/>
<rect x="164.7" y="615.20" width="30.5" height="2.4" fill="#FF0000"/>
<rect x="164.7" y="651.10" width="30.5" height="2.4" fill="#00B050"/>
<rect x="164.7" y="687.00" width="30.5" height="2.4" fill="#663300"/>
<rect x="165.30" y="722.10" width="7.40" height="3.3" fill="#FF0000"/>
<rect x="174.50" y="722.10" width="7.00" height="3.3" fill="#FF0000"/>
<rect x="183.30" y="722.10" width="7.50" height="3.3" fill="#FF0000"/>
<rect x="197.80" y="722.10" width="7.90" height="3.3" fill="#FF0000"/>
<rect x="165.30" y="758.00" width="7.40" height="3.3" fill="#00B050"/>
<rect x="174.50" y="758.00" width="7.00" height="3.3" fill="#00B050"/>
<rect x="183.30" y="758.00" width="7.50" height="3.3" fill="#00B050"/>
<rect x="197.80" y="758.00" width="7.90" height="3.3" fill="#00B050"/>
<text transform="matrix(0.26476 0.00000 0.00000 0.26761 42.070 22.532)" font-family="'Liberation Sans', sans-serif" font-weight="bold" font-style="normal" font-size="100" fill="#000" xml:space="preserve">30</text>
<text transform="matrix(0.26923 0.00000 0.00000 0.26901 41.592 180.731)" font-family="'Liberation Sans', sans-serif" font-weight="bold" font-style="normal" font-size="100" fill="#000" xml:space="preserve">20</text>
<text transform="matrix(0.27447 0.00000 0.00000 0.27746 56.402 339.223)" font-family="'Liberation Sans', sans-serif" font-weight="bold" font-style="normal" font-size="100" fill="#000" xml:space="preserve">0</text>
<text transform="matrix(0.28298 0.00000 0.00000 0.26408 55.868 497.236)" font-family="'Liberation Sans', sans-serif" font-weight="bold" font-style="normal" font-size="100" fill="#000" xml:space="preserve">0</text>
<text transform="matrix(0.26762 0.00000 0.00000 0.27465 79.697 530.025)" font-family="'Liberation Sans', sans-serif" font-weight="bold" font-style="normal" font-size="100" fill="#000" xml:space="preserve">25</text>
<text transform="matrix(0.26132 0.00000 0.00000 0.27042 280.477 529.730)" font-family="'Liberation Sans', sans-serif" font-weight="bold" font-style="normal" font-size="100" fill="#000" xml:space="preserve">35</text>
<text transform="matrix(0.26604 0.00000 0.00000 0.26714 478.968 529.333)" font-family="'Liberation Sans', sans-serif" font-weight="bold" font-style="normal" font-size="100" fill="#000" xml:space="preserve">45</text>
<text transform="matrix(0.26381 0.00000 0.00000 0.27429 678.409 529.726)" font-family="'Liberation Sans', sans-serif" font-weight="bold" font-style="normal" font-size="100" fill="#000" xml:space="preserve">55</text>
<text transform="matrix(0.26731 0.00000 0.00000 0.26761 878.631 529.732)" font-family="'Liberation Sans', sans-serif" font-weight="bold" font-style="normal" font-size="100" fill="#000" xml:space="preserve">65</text>
<text transform="matrix(0.24528 0.00000 0.00000 0.24638 912.509 21.000)" font-family="'Liberation Sans', sans-serif" font-weight="bold" font-style="normal" font-size="100" fill="#000" stroke="#fff" stroke-width="1.424" stroke-linejoin="round" xml:space="preserve">4</text>
<text transform="matrix(0.23400 0.00000 0.00000 0.23662 913.432 115.563)" font-family="'Liberation Sans', sans-serif" font-weight="bold" font-style="normal" font-size="100" fill="#000" stroke="#fff" stroke-width="1.487" stroke-linejoin="round" xml:space="preserve">3</text>
<text transform="matrix(0.25102 0.00000 0.00000 0.23714 912.747 210.800)" font-family="'Liberation Sans', sans-serif" font-weight="bold" font-style="normal" font-size="100" fill="#000" stroke="#fff" stroke-width="1.434" stroke-linejoin="round" xml:space="preserve">2</text>
<text transform="matrix(0.25532 0.00000 0.00000 0.23662 912.679 400.563)" font-family="'Liberation Sans', sans-serif" font-weight="bold" font-style="normal" font-size="100" fill="#000" stroke="#fff" stroke-width="1.423" stroke-linejoin="round" xml:space="preserve">0</text>
<text transform="matrix(0.35837 0.00000 0.00000 0.36919 656.325 570.200)" font-family="'Liberation Sans', sans-serif" font-weight="bold" font-style="normal" font-size="100" fill="#000" stroke="#fff" stroke-width="1.100" stroke-linejoin="round" xml:space="preserve">Apex angle (degrees)</text>
<text transform="matrix(0.00000 -0.35758 0.37210 0.00000 1012.800 272.230)" font-family="'Liberation Sans', sans-serif" font-weight="bold" font-style="normal" font-size="100" fill="#000" stroke="#fff" stroke-width="1.096" stroke-linejoin="round" xml:space="preserve">CEP  shift (rad)</text>
<text transform="matrix(0.37636 0.00000 0.00000 0.33649 5.971 98.264)" font-family="'Liberation Sans', sans-serif" font-weight="normal" font-style="italic" font-size="100" fill="#000" stroke="#000" stroke-width="1.403" stroke-linejoin="round" xml:space="preserve">d</text>
<text transform="matrix(0.26957 0.00000 0.00000 0.23000 26.052 106.500)" font-family="'Liberation Sans', sans-serif" font-weight="normal" font-style="normal" font-size="100" fill="#000" stroke="#000" stroke-width="2.402" stroke-linejoin="round" xml:space="preserve">2</text>
<text transform="matrix(0.20488 0.00000 0.00000 0.33836 42.624 98.500)" font-family="'Liberation Sans', sans-serif" font-weight="normal" font-style="italic" font-size="100" fill="#000" stroke="#000" stroke-width="3.313" stroke-linejoin="round" xml:space="preserve">/</text>
<text transform="matrix(0.36545 0.00000 0.00000 0.33649 52.404 98.264)" font-family="'Liberation Sans', sans-serif" font-weight="normal" font-style="italic" font-size="100" fill="#000" stroke="#000" stroke-width="1.425" stroke-linejoin="round" xml:space="preserve">d</text>
<text transform="matrix(0.24468 0.00000 0.00000 0.23944 72.821 106.561)" font-family="'Liberation Sans', sans-serif" font-weight="normal" font-style="normal" font-size="100" fill="#000" stroke="#000" stroke-width="2.479" stroke-linejoin="round" xml:space="preserve">3</text>
<text transform="matrix(0.26167 0.00000 0.00000 0.27297 203.315 586.727)" font-family="'Liberation Sans', sans-serif" font-weight="bold" font-style="italic" font-size="100" fill="#0070C0" xml:space="preserve">d</text>
<text transform="matrix(0.18163 0.00000 0.00000 0.17571 218.955 593.800)" font-family="'Liberation Sans', sans-serif" font-weight="bold" font-style="normal" font-size="100" fill="#0070C0" xml:space="preserve">2</text>
<text transform="matrix(0.30769 0.00000 0.00000 0.36486 229.923 591.435)" font-family="'Liberation Sans', sans-serif" font-weight="bold" font-style="italic" font-size="100" fill="#0070C0" xml:space="preserve">/</text>
<text transform="matrix(0.26167 0.00000 0.00000 0.27297 242.315 586.727)" font-family="'Liberation Sans', sans-serif" font-weight="bold" font-style="italic" font-size="100" fill="#0070C0" xml:space="preserve">d</text>
<text transform="matrix(0.17800 0.00000 0.00000 0.16761 258.044 593.632)" font-family="'Liberation Sans', sans-serif" font-weight="bold" font-style="normal" font-size="100" fill="#0070C0" xml:space="preserve">3</text>
<text transform="matrix(0.24976 0.00000 0.00000 0.27326 280.352 586.900)" font-family="'Liberation Sans', sans-serif" font-weight="bold" font-style="normal" font-size="100" fill="#0070C0" xml:space="preserve">PGD</text>
<text transform="matrix(0.26167 0.00000 0.00000 0.27297 203.315 622.627)" font-family="'Liberation Sans', sans-serif" font-weight="bold" font-style="italic" font-size="100" fill="#FF0000" xml:space="preserve">d</text>
<text transform="matrix(0.18163 0.00000 0.00000 0.17571 218.955 629.700)" font-family="'Liberation Sans', sans-serif" font-weight="bold" font-style="normal" font-size="100" fill="#FF0000" xml:space="preserve">2</text>
<text transform="matrix(0.30769 0.00000 0.00000 0.36486 229.923 627.335)" font-family="'Liberation Sans', sans-serif" font-weight="bold" font-style="italic" font-size="100" fill="#FF0000" xml:space="preserve">/</text>
<text transform="matrix(0.26167 0.00000 0.00000 0.27297 242.315 622.627)" font-family="'Liberation Sans', sans-serif" font-weight="bold" font-style="italic" font-size="100" fill="#FF0000" xml:space="preserve">d</text>
<text transform="matrix(0.17800 0.00000 0.00000 0.16761 258.044 629.532)" font-family="'Liberation Sans', sans-serif" font-weight="bold" font-style="normal" font-size="100" fill="#FF0000" xml:space="preserve">3</text>
<text transform="matrix(0.25976 0.00000 0.00000 0.27326 279.582 622.800)" font-family="'Liberation Sans', sans-serif" font-weight="bold" font-style="normal" font-size="100" fill="#FF0000" xml:space="preserve">Isochronous</text>
<text transform="matrix(0.26167 0.00000 0.00000 0.27297 203.315 658.527)" font-family="'Liberation Sans', sans-serif" font-weight="bold" font-style="italic" font-size="100" fill="#00B050" xml:space="preserve">d</text>
<text transform="matrix(0.18163 0.00000 0.00000 0.17571 218.955 665.600)" font-family="'Liberation Sans', sans-serif" font-weight="bold" font-style="normal" font-size="100" fill="#00B050" xml:space="preserve">2</text>
<text transform="matrix(0.30769 0.00000 0.00000 0.36486 229.923 663.235)" font-family="'Liberation Sans', sans-serif" font-weight="bold" font-style="italic" font-size="100" fill="#00B050" xml:space="preserve">/</text>
<text transform="matrix(0.26167 0.00000 0.00000 0.27297 242.315 658.527)" font-family="'Liberation Sans', sans-serif" font-weight="bold" font-style="italic" font-size="100" fill="#00B050" xml:space="preserve">d</text>
<text transform="matrix(0.17800 0.00000 0.00000 0.16761 258.044 665.432)" font-family="'Liberation Sans', sans-serif" font-weight="bold" font-style="normal" font-size="100" fill="#00B050" xml:space="preserve">3</text>
<text transform="matrix(0.25851 0.00000 0.00000 0.27326 279.590 658.700)" font-family="'Liberation Sans', sans-serif" font-weight="bold" font-style="normal" font-size="100" fill="#00B050" xml:space="preserve">Isodispersive</text>
<text transform="matrix(0.26167 0.00000 0.00000 0.27297 203.315 694.427)" font-family="'Liberation Sans', sans-serif" font-weight="bold" font-style="italic" font-size="100" fill="#663300" xml:space="preserve">d</text>
<text transform="matrix(0.18163 0.00000 0.00000 0.17571 218.955 701.500)" font-family="'Liberation Sans', sans-serif" font-weight="bold" font-style="normal" font-size="100" fill="#663300" xml:space="preserve">2</text>
<text transform="matrix(0.30769 0.00000 0.00000 0.36486 229.923 699.135)" font-family="'Liberation Sans', sans-serif" font-weight="bold" font-style="italic" font-size="100" fill="#663300" xml:space="preserve">/</text>
<text transform="matrix(0.26167 0.00000 0.00000 0.27297 242.315 694.427)" font-family="'Liberation Sans', sans-serif" font-weight="bold" font-style="italic" font-size="100" fill="#663300" xml:space="preserve">d</text>
<text transform="matrix(0.17800 0.00000 0.00000 0.16761 258.044 701.332)" font-family="'Liberation Sans', sans-serif" font-weight="bold" font-style="normal" font-size="100" fill="#663300" xml:space="preserve">3</text>
<text transform="matrix(0.25915 0.00000 0.00000 0.27326 280.163 694.600)" font-family="'Liberation Sans', sans-serif" font-weight="bold" font-style="normal" font-size="100" fill="#663300" xml:space="preserve">GDD=0</text>
<text transform="matrix(0.33158 0.00000 0.00000 0.29848 205.274 730.900)" font-family="'Liberation Serif', serif" font-weight="normal" font-style="normal" font-size="100" fill="#FF0000" stroke="#FF0000" stroke-width="1.905" stroke-linejoin="round" xml:space="preserve">&#916;</text>
<text transform="matrix(0.30377 0.00000 0.00000 0.29551 228.692 730.994)" font-family="'Liberation Serif', serif" font-weight="bold" font-style="italic" font-size="100" fill="#FF0000" xml:space="preserve">&#981;</text>
<text transform="matrix(0.15455 0.00000 0.00000 0.15775 243.682 737.042)" font-family="'Liberation Sans', sans-serif" font-weight="bold" font-style="normal" font-size="100" fill="#FF0000" xml:space="preserve">CEP</text>
<text transform="matrix(0.22915 0.00000 0.00000 0.21702 279.525 731.043)" font-family="'Liberation Sans', sans-serif" font-weight="normal" font-style="normal" font-size="100" fill="#FF0000" stroke="#FF0000" stroke-width="2.241" stroke-linejoin="round" xml:space="preserve">(rad)</text>
<text transform="matrix(0.25925 0.00000 0.00000 0.27181 331.485 730.800)" font-family="'Liberation Sans', sans-serif" font-weight="bold" font-style="normal" font-size="100" fill="#FF0000" xml:space="preserve">Isochronous</text>
<text transform="matrix(0.33158 0.00000 0.00000 0.29848 205.274 766.800)" font-family="'Liberation Serif', serif" font-weight="normal" font-style="normal" font-size="100" fill="#00B050" stroke="#00B050" stroke-width="1.905" stroke-linejoin="round" xml:space="preserve">&#916;</text>
<text transform="matrix(0.30377 0.00000 0.00000 0.29551 228.692 766.894)" font-family="'Liberation Serif', serif" font-weight="bold" font-style="italic" font-size="100" fill="#00B050" xml:space="preserve">&#981;</text>
<text transform="matrix(0.15455 0.00000 0.00000 0.15775 243.682 772.942)" font-family="'Liberation Sans', sans-serif" font-weight="bold" font-style="normal" font-size="100" fill="#00B050" xml:space="preserve">CEP</text>
<text transform="matrix(0.22915 0.00000 0.00000 0.21702 279.525 766.943)" font-family="'Liberation Sans', sans-serif" font-weight="normal" font-style="normal" font-size="100" fill="#00B050" stroke="#00B050" stroke-width="2.241" stroke-linejoin="round" xml:space="preserve">(rad)</text>
<text transform="matrix(0.25835 0.00000 0.00000 0.27181 331.492 766.700)" font-family="'Liberation Sans', sans-serif" font-weight="bold" font-style="normal" font-size="100" fill="#00B050" xml:space="preserve">Isodispersive</text>
</svg>
</body></html>
